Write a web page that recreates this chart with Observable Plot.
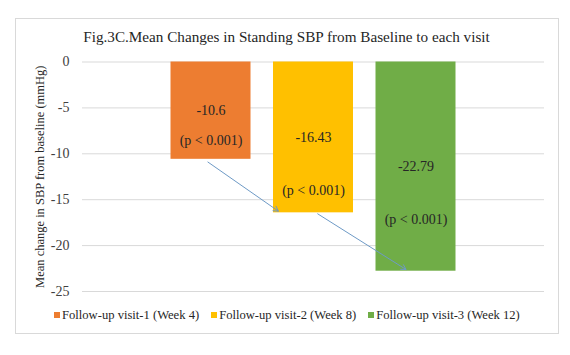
<!DOCTYPE html>
<html>
<head>
<meta charset="utf-8">
<script src="https://cdn.jsdelivr.net/npm/d3@7"></script>
<script src="https://cdn.jsdelivr.net/npm/@observablehq/plot@0.6"></script>
<style>
  html, body { margin: 0; padding: 0; background: #fff; }
  #wrap { position: relative; width: 570px; height: 355px; overflow: hidden; font-family: "Liberation Serif", "Times New Roman", serif; }
  #frame { position: absolute; left: 15px; top: 18px; width: 542px; height: 314px; border: 1px solid #d9d9d9; pointer-events: none; }
  #title { position: absolute; left: 15px; width: 543px; top: 27px; text-align: center; font-size: 15.2px; color: #262626; line-height: 20px; white-space: nowrap; }
  #chart { position: absolute; left: 0; top: 0; }
  #chart svg text { font-family: "Liberation Serif", "Times New Roman", serif; }
  #legend { position: absolute; left: 54px; top: 306px; display: flex; align-items: center; font-size: 12.6px; color: #262626; line-height: 18px; white-space: nowrap; }
  .item { display: flex; align-items: center; margin-right: 12px; }
  .sw { width: 6px; height: 6px; margin-right: 2px; }
</style>
</head>
<body>
<div id="wrap">
  <div id="chart"></div>
  <div id="frame"></div>
  <div id="title"></div>
  <div id="legend"></div>
</div>
<script>
// ---- data ----
const title = "Fig.3C.Mean Changes in Standing SBP from Baseline to each visit";
const yLabel = "Mean change in SBP from baseline (mmHg)";
const categories = ["Follow-up visit-1 (Week 4)", "Follow-up visit-2 (Week 8)", "Follow-up visit-3 (Week 12)"];
const values = [-10.6, -16.43, -22.79];
const pLabels = ["(p < 0.001)", "(p < 0.001)", "(p < 0.001)"];
const pLabelAt = [-8.6, -14.0, -17.2];
const colors = ["#ED7D31", "#FFC000", "#70AD47"];
const yTicks = [0, -5, -10, -15, -20, -25];
// arrows (x in bar-slot units, y in mmHg)
const arrowFromX = [0.47, 1.541];
const arrowFromY = [-10.9, -16.54];
const arrowToX = [1.157, 2.402];
const arrowToY = [-16.25, -22.6];

const rows = categories.map((c, i) => ({i, cat: c, value: values[i], p: pLabels[i], pAt: pLabelAt[i]}));
const arrows = arrowFromX.map((x, k) => ({x1: x, y1: arrowFromY[k], x2: arrowToX[k], y2: arrowToY[k]}));

const plot = Plot.plot({
  width: 570,
  height: 355,
  marginTop: 61.5,
  marginBottom: 64,
  marginLeft: 82,
  marginRight: 26,
  style: {fontFamily: "'Liberation Serif', serif", fontSize: "14px", color: "#404040", background: "transparent"},
  x: {domain: [-0.7537, 3.7537], axis: null},
  y: {domain: [-25, 0], ticks: yTicks, tickSize: 0, tickPadding: 13, label: null, tickFormat: d => String(d)},
  color: {domain: categories, range: colors},
  marks: [
    Plot.ruleY(yTicks, {stroke: "#d9d9d9", strokeWidth: 1}),
    Plot.rectY(rows, {x1: d => d.i, x2: d => d.i + 1, y1: 0, y2: "value", fill: "cat", insetLeft: 11.25, insetRight: 11.25}),
    Plot.text(rows, {x: d => d.i + 0.5, y: d => d.value / 2, text: d => String(d.value), fontSize: 14, fill: "#262626"}),
    Plot.text(rows, {x: d => d.i + 0.5, y: "pAt", text: "p", fontSize: 14, fill: "#262626"}),
    Plot.arrow(arrows, {x1: "x1", y1: "y1", x2: "x2", y2: "y2", stroke: "#6e9ac6", strokeWidth: 1, headLength: 8}),
    Plot.text([yLabel], {frameAnchor: "left", textAnchor: "middle", rotate: -90, dx: -43, fontSize: 12.5, fill: "#262626"})
  ]
});
document.getElementById("chart").appendChild(plot);
document.getElementById("title").textContent = title;

const legend = document.getElementById("legend");
categories.forEach((c, i) => {
  const item = document.createElement("div");
  item.className = "item";
  const sw = document.createElement("span");
  sw.className = "sw";
  sw.style.background = colors[i];
  const t = document.createElement("span");
  t.textContent = c;
  item.appendChild(sw);
  item.appendChild(t);
  legend.appendChild(item);
});
</script>
</body>
</html>
